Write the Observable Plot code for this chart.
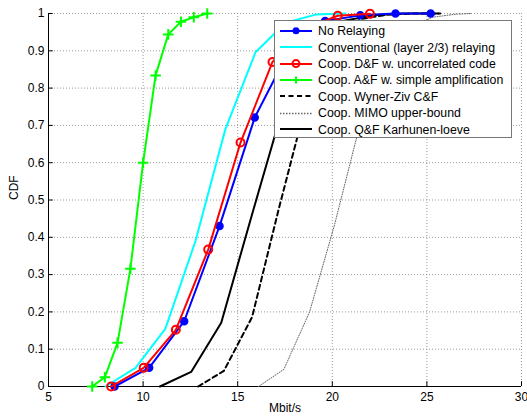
<!DOCTYPE html>
<html><head><meta charset="utf-8">
<script src="https://cdn.jsdelivr.net/npm/d3@7"></script>
<script src="https://cdn.jsdelivr.net/npm/@observablehq/plot@0.6"></script>
<style>body{margin:0;background:#fff}</style>
</head><body><div id="chart"></div>
<script>
const xNoRelay = [8.49,10.32,12.17,14.04,15.90,17.76,19.62,21.48,23.34,25.2];
const yNoRelay = [0,0.05,0.175,0.43,0.721,0.905,0.98,0.995,1,1];
const xConv = [8.01,9.6,11.18,12.77,14.35,15.94,17.53,19.12,20.7];
const yConv = [0,0.05,0.155,0.39,0.69,0.896,0.975,0.997,1];
const xDF = [8.31,10.03,11.73,13.44,15.15,16.84,18.57,20.29,21.99];
const yDF = [0,0.05,0.152,0.367,0.654,0.87,0.96,0.994,0.999];
const xAF = [7.31,7.98,8.65,9.33,10.0,10.66,11.33,12.0,12.68,13.39];
const yAF = [0,0.025,0.117,0.316,0.6,0.834,0.944,0.978,0.99,1];
const xWZ = [12.91,14.27,15.76,17.19,18.62,20.05,21.48,22.9,24.3,25.7];
const yWZ = [0,0.042,0.186,0.48,0.76,0.93,0.985,0.997,1,1];
const xMIMO = [16.1,17.44,18.8,20.1,21.4,22.7,24.0,25.3,26.5,27.3];
const yMIMO = [0,0.046,0.2,0.43,0.69,0.87,0.96,0.99,0.998,1];
const xQF = [10.89,12.54,14.13,15.75,17.35,18.95,20.55,22.15,23.75,25.6];
const yQF = [0,0.039,0.171,0.46,0.74,0.93,0.98,0.995,1,1];

const xTicks = [5,10,15,20,25,30];
const yTicks = [0,0.1,0.2,0.3,0.4,0.5,0.6,0.7,0.8,0.9,1];
const yTickLabels = ["0","0.1","0.2","0.3","0.4","0.5","0.6","0.7","0.8","0.9","1"];

const seriesNames = ["No Relaying","Conventional (layer 2/3) relaying","Coop. D&F w. uncorrelated code","Coop. A&F w. simple amplification","Coop. Wyner-Ziv C&F","Coop. MIMO upper-bound","Coop. Q&F Karhunen-loeve"];

const zip = (xs, ys) => xs.map((x, i) => ({x, y: ys[i]}));
const noRelay = zip(xNoRelay, yNoRelay);
const conv = zip(xConv, yConv);
const df = zip(xDF, yDF);
const af = zip(xAF, yAF);
const wz = zip(xWZ, yWZ);
const mimo = zip(xMIMO, yMIMO);
const qf = zip(xQF, yQF);

const styles = [
  {stroke:"#0000ff", width:2, dash:null, marker:"dot"},
  {stroke:"#00ffff", width:2, dash:null, marker:null},
  {stroke:"#ff0000", width:2, dash:null, marker:"circle"},
  {stroke:"#00ff00", width:2, dash:null, marker:"plus"},
  {stroke:"#000000", width:2, dash:"5,3.5", marker:null},
  {stroke:"#666666", width:1, dash:"1,1.5", marker:null},
  {stroke:"#000000", width:2, dash:null, marker:null}
];

const plot = Plot.plot({
  width: 527, height: 416,
  marginLeft: 48, marginRight: 6, marginTop: 13, marginBottom: 30,
  style: {fontFamily: "'Liberation Sans', Arial, sans-serif", fontSize: "12px", color: "#000", background: "#fff"},
  x: {domain: [5, 30], ticks: xTicks, tickSize: 0, tickPadding: 6, label: null},
  y: {domain: [0, 1], ticks: yTicks, tickSize: 0, tickPadding: 4, label: null,
      tickFormat: d => yTickLabels[yTicks.findIndex(t => Math.abs(t - d) < 1e-9)]},
  marks: [
    Plot.gridX(xTicks, {stroke: "#999", strokeOpacity: 1, strokeDasharray: "1,2"}),
    Plot.gridY(yTicks, {stroke: "#999", strokeOpacity: 1, strokeDasharray: "1,2"}),
    Plot.ruleX([5], {stroke: "#000"}),
    Plot.ruleY([0], {stroke: "#000"}),
    Plot.ruleX(xTicks, {x: d => d, y1: 0, y2: 0.013, stroke: "#000"}),
    Plot.ruleY(yTicks, {y: d => d, x1: 5, x2: 5.25, stroke: "#000"}),
    Plot.line(mimo, {x: "x", y: "y", stroke: styles[5].stroke, strokeWidth: styles[5].width, strokeDasharray: styles[5].dash}),
    Plot.line(wz, {x: "x", y: "y", stroke: "#000", strokeWidth: 2, strokeDasharray: styles[4].dash}),
    Plot.line(qf, {x: "x", y: "y", stroke: "#000", strokeWidth: 2}),
    Plot.line(conv, {x: "x", y: "y", stroke: "#00ffff", strokeWidth: 2}),
    Plot.line(noRelay, {x: "x", y: "y", stroke: "#0000ff", strokeWidth: 2}),
    Plot.dot(noRelay, {x: "x", y: "y", r: 3.5, fill: "#0000ff", stroke: "#0000ff"}),
    Plot.line(df, {x: "x", y: "y", stroke: "#ff0000", strokeWidth: 2}),
    Plot.dot(df, {x: "x", y: "y", r: 4, fill: "none", stroke: "#ff0000", strokeWidth: 2}),
    Plot.line(af, {x: "x", y: "y", stroke: "#00ff00", strokeWidth: 2}),
    Plot.dot(af, {x: "x", y: "y", symbol: "plus", r: 3.5, stroke: "#00ff00", strokeWidth: 2}),
    Plot.text(["CDF"], {frameAnchor: "left", dx: -34, rotate: -90, fontSize: 12}),
    Plot.text(["Mbit/s"], {frameAnchor: "bottom", dy: 25, fontSize: 12})
  ]
});
document.getElementById("chart").appendChild(plot);

// Legend
const svg = d3.select(plot);
const lg = svg.append("g").attr("font-family", "'Liberation Sans', Arial, sans-serif").attr("font-size", 12.3).attr("text-anchor", "start");
const bx = 274.5, by = 20.5, bw = 237, bh = 117, rowH = 16.4, row0 = 30.8;
lg.append("rect").attr("x", bx).attr("y", by).attr("width", bw).attr("height", bh)
  .attr("fill", "#fff").attr("stroke", "#777").attr("stroke-width", 1);
seriesNames.forEach((name, i) => {
  const s = styles[i];
  const y = row0 + i * rowH;
  const ly = Math.round(y) + (s.width === 1 ? 0.5 : 0);
  const line = lg.append("line").attr("x1", 280).attr("x2", 312).attr("y1", ly).attr("y2", ly)
    .attr("stroke", s.stroke).attr("stroke-width", s.width === 1 ? 1.5 : s.width);
  if (s.dash) line.attr("stroke-dasharray", s.width === 1 ? "1.5,1.5" : s.dash);
  if (s.marker === "dot") lg.append("circle").attr("cx", 296).attr("cy", y).attr("r", 3.5).attr("fill", s.stroke);
  if (s.marker === "circle") lg.append("circle").attr("cx", 296).attr("cy", y).attr("r", 3.5).attr("fill", "none").attr("stroke", s.stroke).attr("stroke-width", 2);
  if (s.marker === "plus") lg.append("path").attr("d", `M292.5,${y}H299.5M296,${y-3.5}V${y+3.5}`).attr("stroke", s.stroke).attr("stroke-width", 2);
  lg.append("text").attr("x", 318).attr("y", y).attr("dy", "0.35em").attr("text-anchor", "start").attr("fill", "#000").text(name);
});
</script></body></html>
